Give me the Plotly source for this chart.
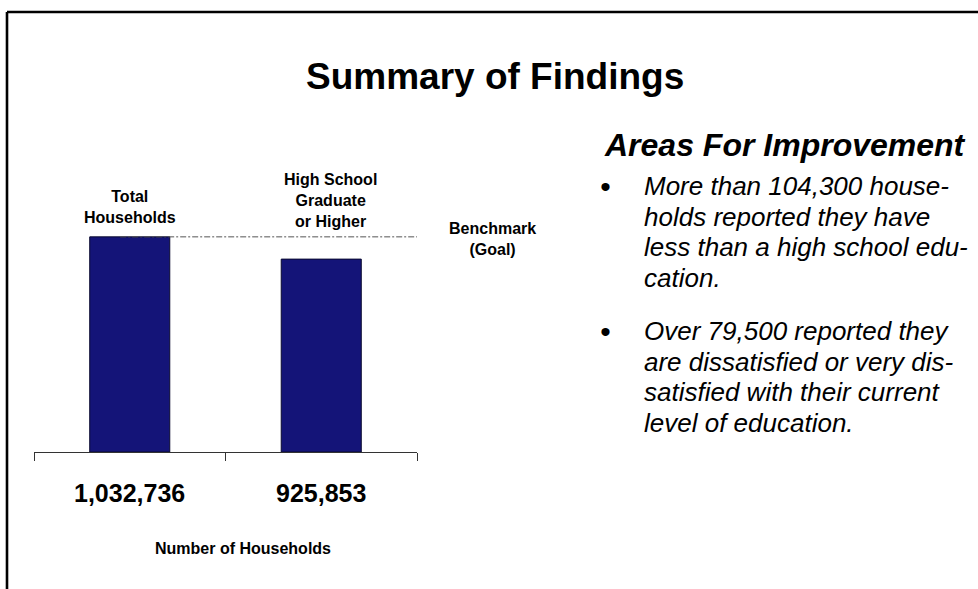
import plotly.graph_objects as go

# ---- data ----
categories = ["Total<br>Households", "High School<br>Graduate<br>or Higher"]
households = [1032736, 925853]
benchmark_value = 1032736
benchmark_label = "Benchmark<br>(Goal)"
axis_title = "Number of Households"
title_text = "Summary of Findings"
panel_heading = "Areas For Improvement"
bullet_lines = [
    ["More than 104,300 house-", "holds reported they have",
     "less than a high school edu-", "cation."],
    ["Over 79,500 reported they", "are dissatisfied or very dis-",
     "satisfied with their current", "level of education."],
]

W, H = 978, 589
def px(x):
    return x / W
def py(y):
    return 1 - y / H

FONT = "Liberation Sans, Arial, Helvetica, sans-serif"
BAR_COLOR = "#141478"

fig = go.Figure()
fig.add_trace(go.Bar(
    x=categories, y=households, width=0.418,
    marker=dict(color=BAR_COLOR, line=dict(color="#0a0a30", width=1)),
    hoverinfo="skip", showlegend=False,
))

annotations = []
# title
annotations.append(dict(text="<b>" + title_text + "</b>", xref="paper", yref="paper",
                        x=px(495), y=py(76), xanchor="center", yanchor="middle",
                        showarrow=False, font=dict(family=FONT, size=37, color="black")))
# category labels above bars
label_shift = [0, 9]
label_bottom = [228, 232]
for i, c in enumerate(categories):
    annotations.append(dict(text="<b>" + c + "</b>", xref="x", yref="paper",
                            x=c, y=py(label_bottom[i]), xanchor="center", yanchor="bottom",
                            xshift=label_shift[i], showarrow=False, align="center",
                            font=dict(family=FONT, size=16, color="black")))
# benchmark label
annotations.append(dict(text="<b>" + benchmark_label + "</b>", xref="paper", yref="paper",
                        x=px(492), y=py(260), xanchor="center", yanchor="bottom",
                        showarrow=False, align="center",
                        font=dict(family=FONT, size=16, color="black")))
# value labels below axis
for c, v in zip(categories, households):
    annotations.append(dict(text="<b>" + f"{v:,}" + "</b>", xref="x", yref="paper",
                            x=c, y=py(493), xanchor="center", yanchor="middle",
                            showarrow=False, font=dict(family=FONT, size=25, color="black")))
# axis title
annotations.append(dict(text="<b>" + axis_title + "</b>", xref="paper", yref="paper",
                        x=px(243), y=py(548), xanchor="center", yanchor="middle",
                        showarrow=False, font=dict(family=FONT, size=16, color="black")))
# right panel heading
annotations.append(dict(text="<b><i>" + panel_heading + "</i></b>", xref="paper", yref="paper",
                        x=px(785), y=py(145), xanchor="center", yanchor="middle",
                        showarrow=False, font=dict(family=FONT, size=32, color="black")))
# bullet text
bullet_first_baseline = [195, 340]
line_gap = 30.7
for b, lines in enumerate(bullet_lines):
    base = bullet_first_baseline[b]
    annotations.append(dict(text="<i>•</i>", xref="paper", yref="paper",
                            x=px(598), y=py(base - 9), xanchor="left", yanchor="middle",
                            showarrow=False, font=dict(family=FONT, size=30, color="black")))
    for k, line in enumerate(lines):
        annotations.append(dict(text="<i>" + line + "</i>", xref="paper", yref="paper",
                                x=px(642), y=py(base + k * line_gap - 9), xanchor="left",
                                yanchor="middle", showarrow=False,
                                font=dict(family=FONT, size=26, color="black")))

shapes = [
    # benchmark line
    dict(type="line", xref="x", yref="y", x0=-0.05, x1=1.557,
         y0=benchmark_value, y1=benchmark_value,
         line=dict(color="#555555", width=1, dash="6px,2px,2px,2px")),
    # slide border
    dict(type="line", xref="paper", yref="paper", x0=px(7), x1=1.01, y0=py(12), y1=py(12),
         line=dict(color="black", width=2.6)),
    dict(type="line", xref="paper", yref="paper", x0=px(7), x1=px(7), y0=py(12), y1=-0.01,
         line=dict(color="black", width=2.6)),
]

fig.update_layout(
    width=W, height=H, margin=dict(l=0, r=0, t=0, b=0),
    paper_bgcolor="white", plot_bgcolor="white",
    annotations=annotations, shapes=shapes, bargap=0.2,
    xaxis=dict(domain=[px(34), px(417)], range=[-0.5, 1.5], type="category",
               showline=True, linecolor="#333333", linewidth=1,
               ticks="outside", tickson="boundaries", ticklen=8, tickcolor="#333333",
               showticklabels=False, showgrid=False, zeroline=False, fixedrange=True),
    yaxis=dict(domain=[py(452), py(202)], range=[0, 1200000], visible=False,
               showgrid=False, zeroline=False, fixedrange=True),
)

fig.write_html("out.html", config={"displayModeBar": False},
               post_script="document.body.style.margin='0';document.body.style.overflow='hidden';")
